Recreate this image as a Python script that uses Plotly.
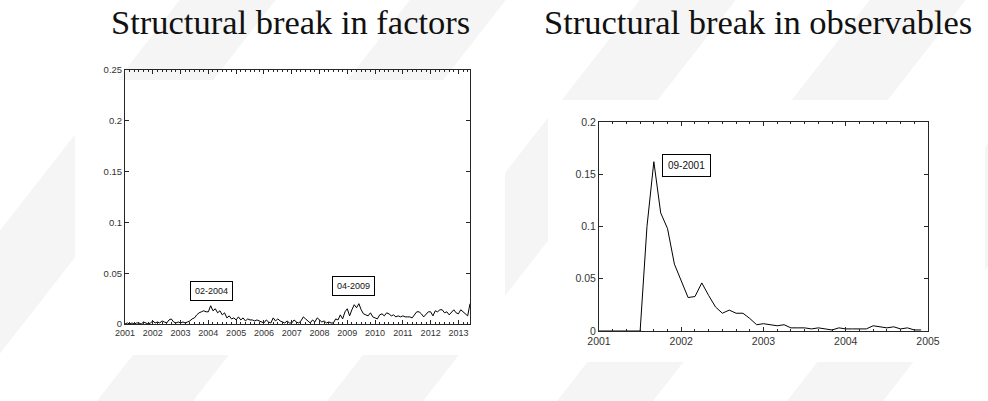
import plotly.graph_objects as go

W, H = 988, 401

# ---- data ----
factors_start_year = 2001
factors_values = [
    0.000, 0.001, 0.000, 0.001, 0.000, 0.001, 0.001, 0.000, 0.002, 0.001, 0.000, 0.001,  # 2001
    0.003, 0.001, 0.002, 0.001, 0.003, 0.002, 0.001, 0.004, 0.005, 0.002, 0.001, 0.002,  # 2002
    0.001, 0.002, 0.001, 0.002, 0.003, 0.005, 0.006, 0.009, 0.011, 0.012, 0.013, 0.012,  # 2003
    0.012, 0.018, 0.013, 0.015, 0.011, 0.013, 0.009, 0.011, 0.006, 0.008, 0.005, 0.006,  # 2004
    0.004, 0.007, 0.004, 0.006, 0.003, 0.005, 0.004, 0.004, 0.003, 0.004, 0.003, 0.002,  # 2005
    0.001, 0.004, 0.002, 0.001, 0.006, 0.003, 0.005, 0.003, 0.002, 0.001, 0.003, 0.001,  # 2006
    0.001, 0.004, 0.002, 0.001, 0.003, 0.007, 0.005, 0.003, 0.001, 0.004, 0.002, 0.006,  # 2007
    0.004, 0.002, 0.003, 0.001, 0.002, 0.001, 0.001, 0.005, 0.004, 0.009, 0.005, 0.012,  # 2008
    0.015, 0.008, 0.014, 0.019, 0.016, 0.020, 0.014, 0.010, 0.009, 0.008, 0.011, 0.007,  # 2009
    0.006, 0.005, 0.009, 0.010, 0.008, 0.011, 0.010, 0.008, 0.009, 0.007, 0.008, 0.007,  # 2010
    0.008, 0.007, 0.007, 0.007, 0.006, 0.009, 0.012, 0.012, 0.010, 0.007, 0.010, 0.012,  # 2011
    0.012, 0.008, 0.013, 0.012, 0.014, 0.014, 0.011, 0.012, 0.009, 0.012, 0.014, 0.011,  # 2012
    0.010, 0.014, 0.012, 0.010, 0.008, 0.020,                                            # 2013
]
factors_x = [factors_start_year + i / 12 for i in range(len(factors_values))]

obs_start_year = 2001
obs_values = [
    0.000, 0.000, 0.000, 0.000, 0.000, 0.000, 0.000, 0.100, 0.162, 0.113, 0.098, 0.064,  # 2001
    0.048, 0.032, 0.033, 0.046, 0.034, 0.023, 0.017, 0.020, 0.017, 0.017, 0.012, 0.006,  # 2002
    0.007, 0.006, 0.005, 0.006, 0.003, 0.003, 0.003, 0.002, 0.003, 0.002, 0.001, 0.003,  # 2003
    0.002, 0.002, 0.002, 0.002, 0.005, 0.004, 0.003, 0.004, 0.002, 0.003, 0.001, 0.001,  # 2004
]
obs_x = [obs_start_year + i / 12 for i in range(len(obs_values))]

left_xticks = list(range(2001, 2014))
left_yticks = [0, 0.05, 0.1, 0.15, 0.2, 0.25]
left_ytext = ["0", "0.05", "0.1", "0.15", "0.2", "0.25"]
right_xticks = list(range(2001, 2006))
right_yticks = [0, 0.05, 0.1, 0.15, 0.2]
right_ytext = ["0", "0.05", "0.1", "0.15", "0.2"]

titles = ["Structural break in factors", "Structural break in observables"]
left_labels = [("02-2004", 2004.13, 0.0325), ("04-2009", 2009.24, 0.0374)]
right_labels = [("09-2001", 2002.06, 0.158)]

# ---- figure ----
def px_x(p):
    return p / W

def px_y(p):
    return 1 - p / H

fig = go.Figure()
fig.add_trace(go.Scatter(x=factors_x, y=factors_values, mode="lines",
                         line=dict(color="black", width=1), xaxis="x", yaxis="y",
                         showlegend=False, hoverinfo="skip"))
fig.add_trace(go.Scatter(x=obs_x, y=obs_values, mode="lines",
                         line=dict(color="black", width=1), xaxis="x2", yaxis="y2",
                         showlegend=False, hoverinfo="skip"))

axis_common = dict(showline=True, linecolor="#262626", linewidth=1, mirror="allticks",
                   ticks="inside", tickcolor="#262626", showgrid=False, zeroline=False,
                   automargin=False)

fig.update_layout(
    width=W, height=H,
    margin=dict(l=0, r=0, t=0, b=0, autoexpand=False),
    paper_bgcolor="white", plot_bgcolor="rgba(0,0,0,0)",
    xaxis=dict(domain=[px_x(125), px_x(470)], range=[2001, 2013 + 5 / 12], anchor="y",
               tickvals=left_xticks, ticktext=[str(v) for v in left_xticks], ticklen=4,
               tickfont=dict(family="Liberation Sans", size=9, color="#333"),
               minor=dict(dtick=1 / 6, tick0=2001, ticks="inside", ticklen=2, tickcolor="#262626"),
               **axis_common),
    yaxis=dict(domain=[px_y(324), px_y(70)], range=[0, 0.25], anchor="x",
               tickvals=left_yticks, ticktext=left_ytext, ticklen=4,
               tickfont=dict(family="Liberation Sans", size=9.5, color="#333"),
               **axis_common),
    xaxis2=dict(domain=[px_x(599), px_x(928)], range=[2001, 2005], anchor="y2",
                tickvals=right_xticks, ticktext=[str(v) for v in right_xticks], ticklen=4,
                tickfont=dict(family="Liberation Sans", size=10.5, color="#333"),
                minor=dict(dtick=1 / 6, tick0=2001, ticks="inside", ticklen=2, tickcolor="#262626"),
                **axis_common),
    yaxis2=dict(domain=[px_y(331), px_y(122)], range=[0, 0.2], anchor="x2",
                tickvals=right_yticks, ticktext=right_ytext, ticklen=4,
                tickfont=dict(family="Liberation Sans", size=10.5, color="#333"),
                **axis_common),
)

# faint diagonal watermark bands (background decoration), then white figure panels
shapes = []
slope = 0.78
band_centers_at_bottom = [-85, 145, 375, 605, 835]
band_half_width = 48
for c in band_centers_at_bottom:
    x0, x1 = c - band_half_width, c + band_half_width
    pts = []
    for (xx, yy) in [(x0, H), (x1, H), (x1, 0), (x0, 0)]:
        shift = slope * (H - yy)
        pts.append((px_x(xx + shift), px_y(yy)))
    path = "M " + " L ".join(f"{a},{b}" for a, b in pts) + " Z"
    shapes.append(dict(type="path", path=path, xref="paper", yref="paper",
                       fillcolor="#f5f5f5", line=dict(width=0), layer="below"))
for (a, b, c, d) in [(75, 80, 505, 355), (548, 100, 985, 362)]:
    shapes.append(dict(type="rect", xref="paper", yref="paper",
                       x0=px_x(a), x1=px_x(c), y0=px_y(d), y1=px_y(b),
                       fillcolor="white", line=dict(width=0), layer="below"))
fig.update_layout(shapes=shapes)

annotations = []
for t, cx in zip(titles, [290, 758]):
    annotations.append(dict(text=t, x=px_x(cx), y=px_y(1), xref="paper", yref="paper",
                            xanchor="center", yanchor="top", showarrow=False,
                            font=dict(family="Liberation Serif", size=34.5, color="#111")))
for txt, xv, yv in left_labels:
    annotations.append(dict(text=txt, x=xv, y=yv, xref="x", yref="y", showarrow=False,
                            bordercolor="black", borderwidth=1, borderpad=4, bgcolor="white",
                            font=dict(family="Liberation Sans", size=9, color="#111")))
for txt, xv, yv in right_labels:
    annotations.append(dict(text=txt, x=xv, y=yv, xref="x2", yref="y2", showarrow=False,
                            bordercolor="black", borderwidth=1, borderpad=5, bgcolor="white",
                            font=dict(family="Liberation Sans", size=10, color="#111")))
fig.update_layout(annotations=annotations)

fig.write_html("out.html")
